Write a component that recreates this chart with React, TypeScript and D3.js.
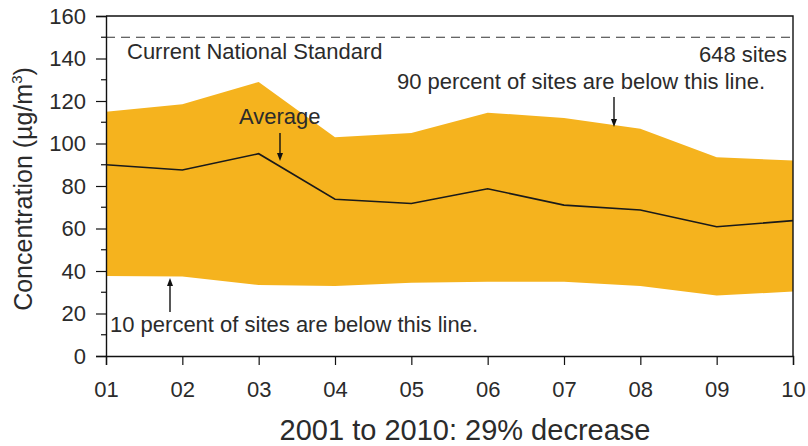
import React, { useEffect, useRef } from 'react'
import * as d3 from 'd3'

const years = ['01', '02', '03', '04', '05', '06', '07', '08', '09', '10']
const upper = [115, 118.5, 129, 103, 105, 114.5, 112, 107, 93.5, 92]
const average = [90, 87.5, 95.2, 73.8, 71.8, 78.7, 71, 68.7, 60.8, 63.7]
const lower = [37.6, 37.4, 33.4, 33, 34.5, 35, 35, 33, 28.5, 30.3]
const yTicks = [0, 20, 40, 60, 80, 100, 120, 140, 160]
const minorTicks = [10, 30, 50, 70, 90, 110, 130, 150]
const standard = 150

const W = 808
const H = 446
const m = { left: 106, right: 15, top: 16, bottom: 90 }

const App = () => {
  const svg = useRef(null)

  useEffect(() => {
    const g = d3.select(svg.current)
    g.selectAll('*').remove()

    const x = d3
      .scalePoint()
      .domain(years)
      .range([m.left, W - m.right])
    const y = d3
      .scaleLinear()
      .domain([0, 160])
      .range([H - m.bottom, m.top])

    const font = 'Liberation Sans, Arial, sans-serif'
    const text = '#2b2b2b'

    const rows = years.map((d, i) => ({ year: d, lo: lower[i], hi: upper[i], avg: average[i] }))

    // band between 10th and 90th percentile
    const area = d3
      .area<any>()
      .x(d => x(d.year))
      .y0(d => y(d.lo))
      .y1(d => y(d.hi))
    g.append('path').datum(rows).attr('d', area).attr('fill', '#F5B31E')

    // average line
    const line = d3
      .line<any>()
      .x(d => x(d.year))
      .y(d => y(d.avg))
    g.append('path')
      .datum(rows)
      .attr('d', line)
      .attr('fill', 'none')
      .attr('stroke', '#1a1a1a')
      .attr('stroke-width', 1.6)

    // national standard
    g.append('line')
      .attr('x1', m.left)
      .attr('x2', W - m.right)
      .attr('y1', y(standard))
      .attr('y2', y(standard))
      .attr('stroke', '#333')
      .attr('stroke-width', 1)
      .attr('stroke-dasharray', '9,6')

    // frame top + right
    g.append('path')
      .attr('d', `M${m.left},${m.top}H${W - m.right}V${H - m.bottom}`)
      .attr('fill', 'none')
      .attr('stroke', '#111')
      .attr('stroke-width', 1.4)

    // y axis
    const yAxis = g.append('g').attr('transform', `translate(${m.left},0)`)
    yAxis
      .call(d3.axisLeft(y).tickValues(yTicks).tickSize(10).tickPadding(10))
      .call(s => s.select('.domain').attr('stroke', '#111').attr('stroke-width', 1.4))
    yAxis.selectAll('text').attr('font-family', font).attr('font-size', 22).attr('fill', text)
    yAxis.selectAll('line').attr('stroke', '#111').attr('stroke-width', 1.2)
    yAxis
      .selectAll('.minor')
      .data(minorTicks)
      .enter()
      .append('line')
      .attr('class', 'minor')
      .attr('x1', -5)
      .attr('x2', 0)
      .attr('y1', d => y(d))
      .attr('y2', d => y(d))
      .attr('stroke', '#111')
      .attr('stroke-width', 1.2)

    // x axis
    const xAxis = g.append('g').attr('transform', `translate(0,${H - m.bottom})`)
    xAxis
      .call(d3.axisBottom(x).tickSize(9).tickPadding(16))
      .call(s => s.select('.domain').attr('stroke', '#111').attr('stroke-width', 1.4))
    xAxis.selectAll('text').attr('font-family', font).attr('font-size', 22).attr('fill', text)
    xAxis.selectAll('line').attr('stroke', '#111').attr('stroke-width', 1.2)

    // axis titles
    g.append('text')
      .attr('x', 465)
      .attr('y', 440)
      .attr('text-anchor', 'middle')
      .attr('font-family', font)
      .attr('font-size', 29)
      .attr('fill', text)
      .text('2001 to 2010: 29% decrease')

    const yt = g
      .append('text')
      .attr('transform', `translate(32,189) rotate(-90)`)
      .attr('text-anchor', 'middle')
      .attr('font-family', font)
      .attr('font-size', 25)
      .attr('fill', text)
    yt.append('tspan').text('Concentration (µg/m')
    yt.append('tspan').attr('font-size', 15).attr('dy', -10).text('3')
    yt.append('tspan').attr('dy', 10).text(')')

    // annotations
    const note = (tx: number, ty: number, s: string, anchor = 'start') =>
      g.append('text')
        .attr('x', tx)
        .attr('y', ty)
        .attr('text-anchor', anchor)
        .attr('font-family', font)
        .attr('font-size', 22)
        .attr('fill', text)
        .text(s)

    note(127, 59, 'Current National Standard')
    note(787, 62, '648 sites', 'end')
    note(765, 89, '90 percent of sites are below this line.', 'end')
    note(239, 124, 'Average')
    note(110, 332, '10 percent of sites are below this line.')

    const arrow = (ax: number, y1: number, y2: number) => {
      const dir = y2 > y1 ? 1 : -1
      g.append('line')
        .attr('x1', ax)
        .attr('x2', ax)
        .attr('y1', y1)
        .attr('y2', y2 - dir * 6)
        .attr('stroke', '#111')
        .attr('stroke-width', 1.4)
      g.append('path')
        .attr('d', `M${ax - 3},${y2 - dir * 8}L${ax + 3},${y2 - dir * 8}L${ax},${y2}Z`)
        .attr('fill', '#111')
    }
    arrow(614, 97, 127)
    arrow(280, 133, 161)
    arrow(170, 312, 278)
  }, [])

  return <svg ref={svg} width={W} height={H} style={{ display: 'block', position: 'absolute', left: 0, top: 0 }}></svg>
}

export default App
